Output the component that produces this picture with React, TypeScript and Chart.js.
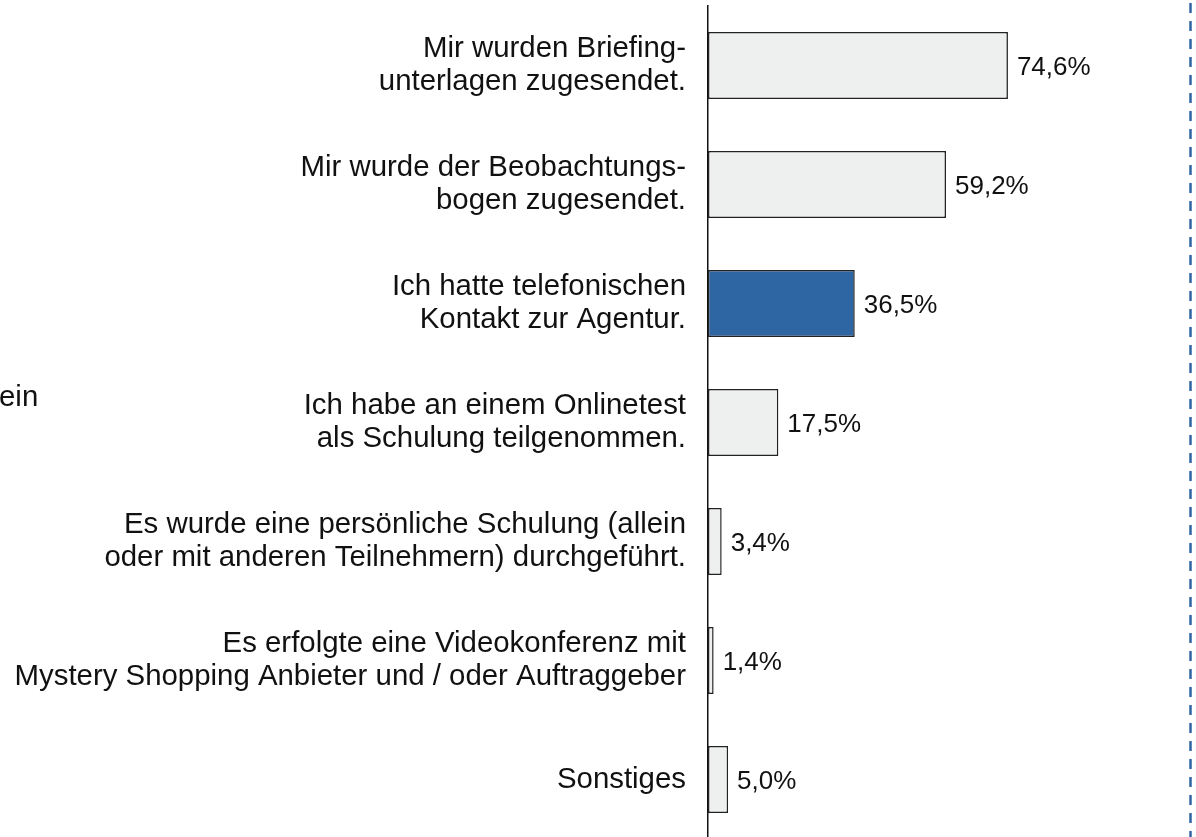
import React, { useEffect, useRef } from "react";
import { Chart, registerables } from "chart.js";

Chart.register(...registerables);

const categories: string[][] = [
  ["Mir wurden Briefing-", "unterlagen zugesendet."],
  ["Mir wurde der Beobachtungs-", "bogen zugesendet."],
  ["Ich hatte telefonischen", "Kontakt zur Agentur."],
  ["Ich habe an einem Onlinetest", "als Schulung teilgenommen."],
  ["Es wurde eine persönliche Schulung (allein", "oder mit anderen Teilnehmern) durchgeführt."],
  ["Es erfolgte eine Videokonferenz mit", "Mystery Shopping Anbieter und / oder Auftraggeber"],
  ["Sonstiges"],
];
const values: number[] = [74.6, 59.2, 36.5, 17.5, 3.4, 1.4, 5.0];
const highlightIndex = 2;
const strayText = "ein";

const FONT = "'Liberation Sans', Arial, sans-serif";
const GREY = "#eef0f0";
const BLUE = "#2e65a3";
const BORDER = "#222222";

export default function App() {
  const ref = useRef<HTMLCanvasElement | null>(null);

  useEffect(() => {
    if (!ref.current) return;
    const valueLabels = {
      id: "valueLabels",
      afterDatasetsDraw(chart: any) {
        const ctx = chart.ctx;
        const meta = chart.getDatasetMeta(0);
        ctx.save();
        ctx.font = `26px ${FONT}`;
        ctx.fillStyle = "#111";
        ctx.textBaseline = "middle";
        ctx.textAlign = "left";
        meta.data.forEach((bar: any, i: number) => {
          const txt = values[i].toFixed(1).replace(".", ",") + "%";
          ctx.fillText(txt, bar.x + 9, bar.y + 2);
        });
        ctx.restore();
      },
    };
    const extras = {
      id: "extras",
      afterDraw(chart: any) {
        const ctx = chart.ctx;
        ctx.save();
        ctx.strokeStyle = BLUE;
        ctx.lineWidth = 2.5;
        ctx.setLineDash([10, 8]);
        ctx.beginPath();
        ctx.moveTo(1190.5, 3);
        ctx.lineTo(1190.5, chart.height);
        ctx.stroke();
        ctx.setLineDash([]);
        ctx.font = `29.4px ${FONT}`;
        ctx.fillStyle = "#111";
        ctx.textBaseline = "alphabetic";
        ctx.textAlign = "left";
        ctx.fillText(strayText, -1, 406);
        ctx.restore();
      },
    };
    const chart = new Chart(ref.current, {
      type: "bar",
      data: {
        labels: categories,
        datasets: [
          {
            data: values,
            backgroundColor: values.map((_, i) => (i === highlightIndex ? BLUE : GREY)),
            borderColor: BORDER,
            borderWidth: 1.5,
            borderSkipped: false,
            categoryPercentage: 1,
            barPercentage: 0.565,
          },
        ],
      },
      options: {
        indexAxis: "y",
        animation: false,
        responsive: false,
        maintainAspectRatio: false,
        layout: { padding: { top: 6, bottom: 0, left: 0, right: 86 } },
        plugins: { legend: { display: false }, tooltip: { enabled: false } },
        scales: {
          x: { display: false, min: 0, max: 100 },
          y: {
            afterFit: (s: any) => {
              s.width = 708;
              s.paddingTop = 0;
              s.paddingBottom = 0;
            },
            grid: { display: false, drawTicks: false },
            border: { display: true, color: "#111", width: 1.5 },
            ticks: {
              color: "#111",
              padding: 22,
              font: { family: FONT, size: 29.4, lineHeight: 1.1 },
            },
          },
        },
      },
      plugins: [valueLabels, extras],
    });
    return () => chart.destroy();
  }, []);

  return (
    <div
      style={{
        position: "fixed",
        left: 0,
        top: 0,
        width: 1196,
        height: 837,
        overflow: "hidden",
        background: "#fff",
      }}
    >
      <canvas ref={ref} width={1196} height={839} style={{ display: "block" }} />
    </div>
  );
}
